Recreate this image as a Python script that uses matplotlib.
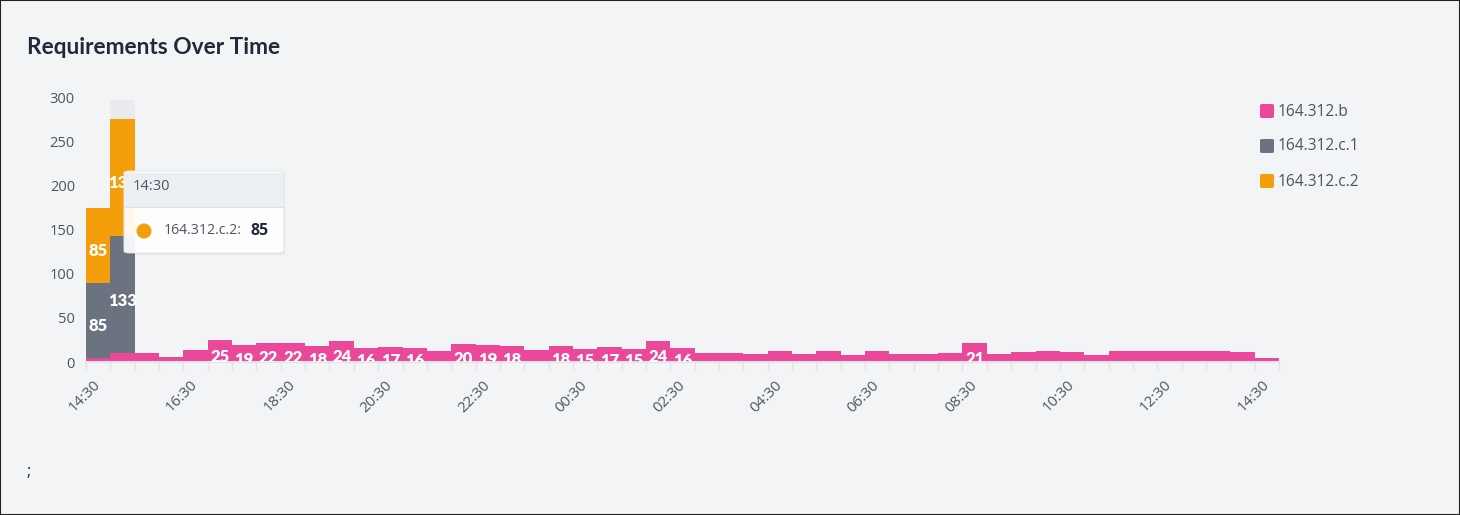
import matplotlib
matplotlib.use('Agg')
import matplotlib.pyplot as plt
from matplotlib.patches import FancyBboxPatch, Rectangle, Ellipse
from matplotlib import transforms

# ---------------- data ----------------
series_names = ['164.312.b', '164.312.c.1', '164.312.c.2']
series_colors = ['#ec4899', '#6b7280', '#f59e0b']

b_vals = [5, 10, 10, 6, 14, 25, 19, 22, 22, 18, 24, 16, 17, 16, 12, 20, 19, 18, 14, 18,
          15, 17, 15, 24, 16, 10, 10, 9, 13, 9, 12, 8, 13, 9, 9, 10, 21, 9, 11, 12,
          11, 8, 12, 13, 13, 13, 13, 11, 5]
c1_vals = [85, 133] + [0] * 47
c2_vals = [85, 133] + [0] * 47

tick_labels = ['14:30', '16:30', '18:30', '20:30', '22:30', '00:30', '02:30',
               '04:30', '06:30', '08:30', '10:30', '12:30', '14:30']
y_ticks = [0, 50, 100, 150, 200, 250, 300]

title = 'Requirements Over Time'
tooltip_time = '14:30'
tooltip_series = '164.312.c.2:'
tooltip_value = '85'
label_threshold = 15

# ---------------- style ----------------
W, H = 1460, 515
BG = '#f3f4f6'
TXT = '#4b5563'
FONT = ['Open Sans', 'DejaVu Sans']
plt.rcParams['font.family'] = FONT

fig = plt.figure(figsize=(W / 100, H / 100), dpi=100)
fig.patch.set_facecolor(BG)

def fx(px):
    return px / W

def fy(py):
    return 1 - py / H

ax_left, ax_right, ax_bottom, ax_top = 86, 1279, 362, 97.5
ax = fig.add_axes([fx(ax_left), fy(ax_bottom), (ax_right - ax_left) / W,
                   (ax_bottom - ax_top) / H])
ax.set_facecolor(BG)

n = len(b_vals)
xs = list(range(n))

# hover highlight column
ax.bar([1], [297], width=1.0, color='#e9ebef', zorder=0.5, linewidth=0)

bottom = [0] * n
for vals, col in zip([b_vals, c1_vals, c2_vals], series_colors):
    ax.bar(xs, vals, bottom=bottom, width=1.0, color=col, linewidth=0, zorder=2)
    offs = transforms.offset_copy(ax.transData, fig=fig, x=0, y=-6, units='dots')
    for i, v in enumerate(vals):
        if v >= label_threshold:
            ax.text(i, bottom[i] + v / 2, str(v), transform=offs, ha='center', va='center',
                    color='white', fontsize=12, fontweight='heavy', zorder=3, clip_on=True,
                    family=['Lato', 'DejaVu Sans'])
    bottom = [b + v for b, v in zip(bottom, vals)]

ax.set_xlim(-0.5, n - 0.5)
ax.set_ylim(0, 300)

ax.set_yticks(y_ticks)
ax.set_yticklabels([str(t) for t in y_ticks])
ax.tick_params(axis='y', length=0, pad=8, labelsize=10.5, labelcolor=TXT)

ax.set_xticks(list(range(0, n, 4)))
ax.set_xticklabels(tick_labels, rotation=45, ha='right', va='center', rotation_mode='anchor')
ax.set_xticks([i - 0.5 for i in range(n + 1)], minor=True)
ax.tick_params(axis='x', which='major', length=0, pad=15, labelsize=10.8, labelcolor=TXT)
ax.tick_params(axis='x', which='minor', length=6, width=1, color='#e2e4e8')

for s in ['top', 'right', 'left']:
    ax.spines[s].set_visible(False)
ax.spines['bottom'].set_color('#e2e4e8')
ax.spines['bottom'].set_linewidth(1.5)

# title
fig.text(fx(27), fy(47), title, ha='left', va='center', fontsize=16.3, fontweight='bold',
         color='#1f2937', family=['Lato', 'DejaVu Sans'])

# semicolon
fig.text(fx(27), fy(472), ';', ha='left', va='center', fontsize=12, color='#1f2937')

# legend
for k, (name, col) in enumerate(zip(series_names, series_colors)):
    top = 104 + 35 * k
    fig.add_artist(FancyBboxPatch((fx(1260), fy(top + 14)), 14 / W, 14 / H,
                                  boxstyle='round,pad=0,rounding_size=0.002',
                                  transform=fig.transFigure, facecolor=col, edgecolor='none'))
    fig.text(fx(1278), fy(top + 7.5), name, ha='left', va='center', fontsize=11.2, color=TXT)

# tooltip
tx0, tx1, ty0, ty1, thead = 124, 284, 171, 253, 208
fig.add_artist(FancyBboxPatch((fx(tx0 + 1), fy(ty1 + 2)), (tx1 - tx0) / W, (ty1 - ty0) / H,
                              boxstyle='round,pad=0,rounding_size=0.004',
                              transform=fig.transFigure, facecolor='#000000', alpha=0.06,
                              edgecolor='none', zorder=9))
fig.add_artist(FancyBboxPatch((fx(tx0), fy(ty1)), (tx1 - tx0) / W, (ty1 - ty0) / H,
                              boxstyle='round,pad=0,rounding_size=0.004',
                              transform=fig.transFigure, facecolor='white', alpha=0.93,
                              edgecolor='#e3e5e8', linewidth=0.8, zorder=10))
fig.add_artist(Rectangle((fx(tx0 + 0.5), fy(thead)), (tx1 - tx0 - 1) / W, (thead - ty0 - 2) / H,
                         transform=fig.transFigure, facecolor='#eceff1', alpha=0.95,
                         edgecolor='none', zorder=11))
fig.add_artist(Rectangle((fx(tx0 + 0.5), fy(thead)), (tx1 - tx0 - 1) / W, 1 / H,
                         transform=fig.transFigure, facecolor='#dde0e4', edgecolor='none',
                         zorder=12))
fig.text(fx(133), fy(187), tooltip_time, ha='left', va='center', fontsize=10.5, color=TXT,
         zorder=13)
fig.add_artist(Ellipse((fx(144), fy(231)), 15 / W, 15 / H, transform=fig.transFigure,
                       facecolor=series_colors[2], edgecolor='none', zorder=13))
fig.text(fx(164), fy(231), tooltip_series, ha='left', va='center', fontsize=10.2, color=TXT,
         zorder=13)
fig.text(fx(251), fy(231), tooltip_value, ha='left', va='center', fontsize=11.5,
         fontweight='bold', color='#1f2937', zorder=13)

# outer border
fig.add_artist(Rectangle((0, 0), 1, 1, transform=fig.transFigure, facecolor='none',
                         edgecolor='#222222', linewidth=1.5, zorder=20))

fig.savefig('out.png', dpi=100, facecolor=BG)
